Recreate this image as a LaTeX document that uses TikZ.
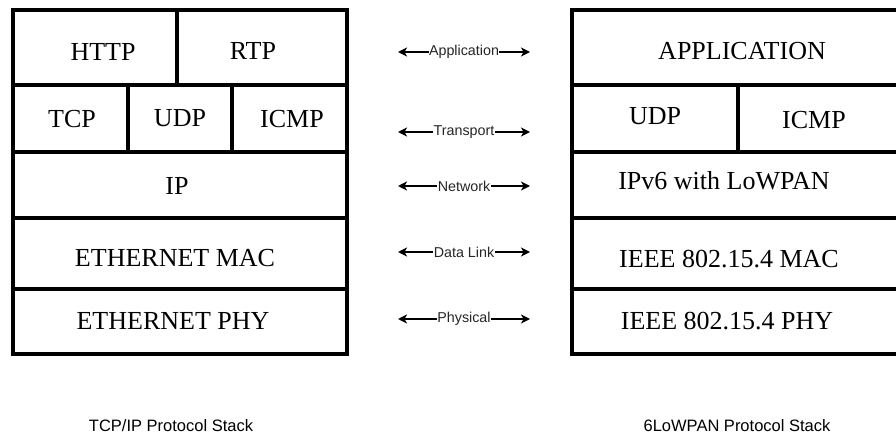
\documentclass[tikz,border=0pt]{standalone}
\usepackage{fontspec}
\setmainfont{Liberation Serif}
\newfontfamily\arialfont{Liberation Sans}
\usetikzlibrary{arrows.meta}
\tikzset{
  grid/.style={line width=3.4pt, line join=miter},
  celltext/.style={anchor=base, inner sep=0pt, font=\fontsize{26}{30}\selectfont},
  layerarrow/.style={line width=1.7pt, {Stealth[length=9pt,width=9pt,inset=2.5pt]}-{Stealth[length=9pt,width=9pt,inset=2.5pt]}},
  layerlabel/.style={fill=white, inner xsep=0.5pt, inner ysep=1pt, text=black!85, font=\arialfont\fontsize{14.3}{16}\selectfont},
  caption/.style={inner sep=0pt, text=black, font=\arialfont\fontsize{16.5}{19}\selectfont}
}
\begin{document}
\begin{tikzpicture}[x=1pt,y=-1pt]
\clip (0,0) rectangle (896,435);
\fill[white] (0,0) rectangle (896,435);
% left stack grid
\draw[grid] (13,10) rectangle (347,354);
\draw[grid] (13,85) -- (347,85) (13,152) -- (347,152) (13,218) -- (347,218) (13,289) -- (347,289);
\draw[grid] (177,10) -- (177,85) (128,85) -- (128,152) (232,85) -- (232,152);
% right stack grid (right side cut off)
\draw[grid] (572,10) rectangle (910,354);
\draw[grid] (572,85) -- (910,85) (572,152) -- (910,152) (572,218) -- (910,218) (572,289) -- (910,289);
\draw[grid] (738,85) -- (738,152);
% left texts
\node[celltext] (http) at (103,61) {HTTP};
\node[celltext] (rtp) at (253,60) {RTP};
\node[celltext] (tcp) at (72,128) {TCP};
\node[celltext] (udpL) at (180,127) {UDP};
\node[celltext] (icmpL) at (292,128) {ICMP};
\node[celltext] (ip) at (177,195) {IP};
\node[celltext] (emac) at (175,267) {ETHERNET MAC};
\node[celltext] (ephy) at (173,329) {ETHERNET PHY};
% right texts
\node[celltext] (app) at (742,60) {APPLICATION};
\node[celltext] (udpR) at (655,125) {UDP};
\node[celltext] (icmpR) at (814,129) {ICMP};
\node[celltext] (ipv6) at (724,190) {IPv6 with LoWPAN};
\node[celltext] (imac) at (729,268) {IEEE 802.15.4 MAC};
\node[celltext] (iphy) at (727,329) {IEEE 802.15.4 PHY};
% layer arrows
\coordinate (aL) at (398,52);  \coordinate (aR) at (530,52);
\coordinate (tL) at (398,132); \coordinate (tR) at (530,132);
\coordinate (nL) at (398,186); \coordinate (nR) at (530,186);
\coordinate (dL) at (398,252); \coordinate (dR) at (530,252);
\coordinate (pL) at (398,319); \coordinate (pR) at (530,319);
\draw[layerarrow] (aL) -- node[layerlabel] (lapp) {Application} (aR);
\draw[layerarrow] (tL) -- node[layerlabel] (ltr) {Transport} (tR);
\draw[layerarrow] (nL) -- node[layerlabel] (lnet) {Network} (nR);
\draw[layerarrow] (dL) -- node[layerlabel] (ldl) {Data Link} (dR);
\draw[layerarrow] (pL) -- node[layerlabel] (lphy) {Physical} (pR);
% captions
\node[caption] (capL) at (171,426) {TCP/IP Protocol Stack};
\node[caption] (capR) at (737,426) {6LoWPAN Protocol Stack};
\end{tikzpicture}
\end{document}
